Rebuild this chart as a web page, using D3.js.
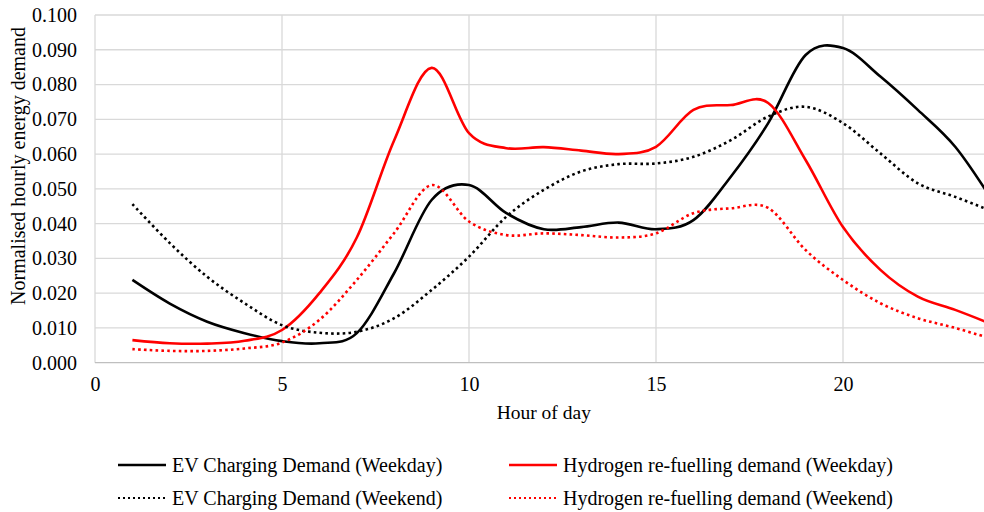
<!DOCTYPE html>
<html><head><meta charset="utf-8">
<script src="https://cdn.jsdelivr.net/npm/d3@7"></script>
<style>html,body{margin:0;padding:0;background:#fff;}svg{display:block;}</style>
</head><body>
<svg id="chart" width="984" height="512"></svg>
<script>
const hours = [1,2,3,4,5,6,7,8,9,10,11,12,13,14,15,16,17,18,19,20,21,22,23,24];
const evWeekday = [0.0238,0.0170,0.0118,0.0085,0.0062,0.0056,0.0085,0.0258,0.0468,0.0511,0.0430,0.0384,0.0390,0.0403,0.0384,0.0410,0.0535,0.0689,0.0885,0.0905,0.0823,0.0727,0.0621,0.0465];
const h2Weekday = [0.0065,0.0056,0.0055,0.0063,0.0094,0.0200,0.0360,0.0640,0.0848,0.0660,0.0617,0.0620,0.0610,0.0600,0.0621,0.0727,0.0741,0.0747,0.0583,0.0390,0.0267,0.0190,0.0152,0.0110];
const evWeekend = [0.0456,0.0344,0.0247,0.0171,0.0108,0.0086,0.0089,0.0128,0.0209,0.0305,0.0420,0.0497,0.0550,0.0571,0.0573,0.0592,0.0640,0.0708,0.0736,0.0689,0.0602,0.0516,0.0477,0.0435];
const h2Weekend = [0.0039,0.0034,0.0034,0.0041,0.0058,0.0123,0.0238,0.0373,0.0511,0.0406,0.0367,0.0372,0.0367,0.0360,0.0372,0.0430,0.0444,0.0445,0.0324,0.0238,0.0171,0.0128,0.0100,0.0068];
const seriesNames = ["EV Charging Demand (Weekday)","Hydrogen re-fuelling demand (Weekday)","EV Charging Demand (Weekend)","Hydrogen re-fuelling demand (Weekend)"];
const xTicks = [0,5,10,15,20];
const yTicks = [0,0.01,0.02,0.03,0.04,0.05,0.06,0.07,0.08,0.09,0.1];

const series = [
  {name: seriesNames[0], values: evWeekday, color: "#000000", dotted: false},
  {name: seriesNames[1], values: h2Weekday, color: "#ff0000", dotted: false},
  {name: seriesNames[2], values: evWeekend, color: "#000000", dotted: true},
  {name: seriesNames[3], values: h2Weekend, color: "#ff0000", dotted: true}
];

const svg = d3.select("#chart");
const font = "'Liberation Serif','Times New Roman',serif";
const x = d3.scaleLinear().domain([0,24]).range([95, 992.6]);
const y = d3.scaleLinear().domain([0,0.1]).range([362.7, 15]);

// gridlines
svg.append("g").selectAll("line.h").data(yTicks.slice(1)).join("line")
  .attr("x1", x(0)).attr("x2", 984).attr("y1", d=>y(d)).attr("y2", d=>y(d))
  .attr("stroke", "#d9d9d9").attr("stroke-width", 1.3);
svg.append("g").selectAll("line.v").data(xTicks.concat([24])).join("line")
  .attr("x1", d=>x(d)).attr("x2", d=>x(d)).attr("y1", y(0.1)).attr("y2", y(0))
  .attr("stroke", "#d9d9d9").attr("stroke-width", 1.3);
// x axis line
svg.append("line").attr("x1", x(0)).attr("x2", 984).attr("y1", y(0)).attr("y2", y(0))
  .attr("stroke", "#bfbfbf").attr("stroke-width", 1.3);

// y tick labels
const yAxis = d3.axisLeft(y).tickValues(yTicks).tickFormat(d3.format(".3f")).tickSize(0).tickPadding(18);
const ga = svg.append("g").attr("transform", `translate(${x(0)},0)`).call(yAxis);
ga.select(".domain").remove();
ga.selectAll("text").attr("font-family", font).attr("font-size", 20).attr("fill", "#000");

const xAxis = d3.axisBottom(x).tickValues(xTicks).tickFormat(d3.format("d")).tickSize(0).tickPadding(14);
const gx = svg.append("g").attr("transform", `translate(0,${y(0)})`).call(xAxis);
gx.select(".domain").remove();
gx.selectAll("text").attr("font-family", font).attr("font-size", 20).attr("fill", "#000");

// axis titles
svg.append("text").attr("x", x(12)).attr("y", 419).attr("text-anchor", "middle")
  .attr("font-family", font).attr("font-size", 19.5).text("Hour of day");
svg.append("text").attr("transform", `translate(25,166) rotate(-90)`).attr("text-anchor", "middle")
  .attr("font-family", font).attr("font-size", 20).text("Normalised hourly energy demand");

// lines
const line = d3.line().x((d,i)=>x(hours[i])).y(d=>y(d)).curve(d3.curveCatmullRom.alpha(0));
svg.append("g").selectAll("path").data(series).join("path")
  .attr("d", d=>line(d.values))
  .attr("fill", "none")
  .attr("stroke", d=>d.color)
  .attr("stroke-width", 2.6)
  .attr("stroke-dasharray", d=>d.dotted ? "2.6,3.2" : null)
  .attr("stroke-linecap", "butt");

// legend
const legendPos = [[118,465],[509,465],[118,498],[509,498]];
const lg = svg.append("g").selectAll("g").data(series).join("g")
  .attr("transform", (d,i)=>`translate(${legendPos[i][0]},${legendPos[i][1]})`);
lg.append("line").attr("x1", 0).attr("x2", 48).attr("y1", 0).attr("y2", 0)
  .attr("stroke", d=>d.color).attr("stroke-width", d=>d.dotted ? 2 : 2.6)
  .attr("stroke-dasharray", d=>d.dotted ? "2,3" : null);
lg.append("text").attr("x", 54).attr("y", 0).attr("dy", "0.35em")
  .attr("font-family", font).attr("font-size", 20).text(d=>d.name);
</script>
</body></html>
